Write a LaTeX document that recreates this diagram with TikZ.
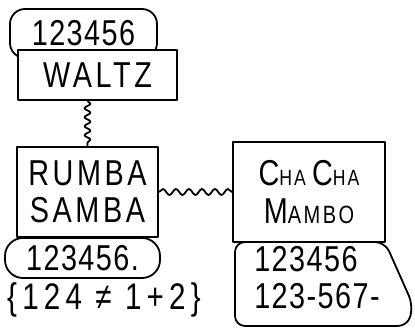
\documentclass[tikz,border=0pt]{standalone}
\usepackage{fontspec}
\setmainfont{Liberation Sans}[FakeStretch=0.8, LetterSpace=10]
\usetikzlibrary{decorations.pathmorphing}
\newcommand{\digs}{\addfontfeature{LetterSpace=4}}
\begin{document}
\begin{tikzpicture}[x=1pt,y=-1pt, line width=1.8pt, line join=round,
  box/.style={draw, fill=white, inner sep=0pt, align=center},
  pill/.style={box, rounded corners=15pt},
  wave/.style={decorate, decoration={snake, amplitude=3pt, segment length=9pt}},
  big/.style={font=\fontsize{36}{37}\selectfont},
  label/.style={inner sep=0pt, align=center}]
\useasboundingbox (0,0) rectangle (415,328);
\node[pill, big, minimum width=147pt, minimum height=49pt] (top) at (83.5,33.5) {\digs 123456};
\node[box, big, minimum width=159pt, minimum height=50pt] (waltz) at (97.5,75) {WALTZ};
\node[pill, big, rounded corners=18pt, minimum width=155pt, minimum height=40pt] (num) at (82.5,258) {\digs 123456.};
\node[box, big, minimum width=141pt, minimum height=90pt] (rumba) at (87.5,192) {RUMBA\\SAMBA};
\node[label, font=\fontsize{37}{34}\selectfont\addfontfeature{LetterSpace=14}] (neq) at (104,300) {\{124 ≠ 1+2\}};
\draw[rounded corners=10pt] (235,242) -- (385,242) -- (413,305) -- (408,326) -- (235,326) -- cycle;
\node[box, minimum width=152pt, minimum height=100pt, font=\fontsize{36}{38}\selectfont] (chacha) at (309,192)
  {C{\fontsize{22}{20}\selectfont HA}\,C{\fontsize{22}{20}\selectfont HA}\\M{\fontsize{25}{20}\selectfont AMBO}};
\node[label, align=left, font=\fontsize{36}{37}\selectfont] (pair) at (317,278) {\digs 123456\\\digs 123-567-};
\draw[wave] (waltz.south -| rumba.north) -- (rumba.north);
\draw[wave, decoration={segment length=13pt}] (rumba.east) -- (rumba.east -| chacha.west);
\end{tikzpicture}
\end{document}
